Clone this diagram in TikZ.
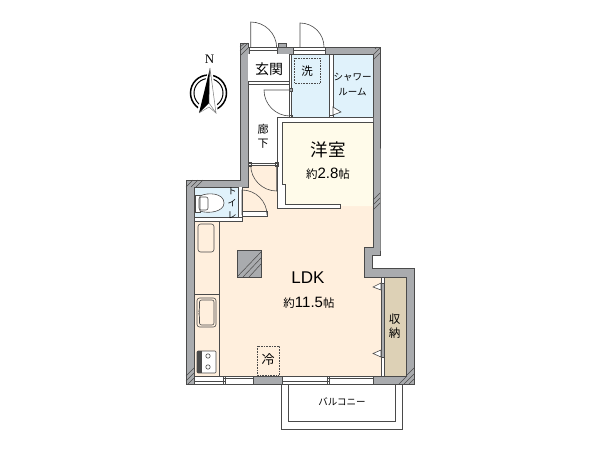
\documentclass[tikz,border=0pt]{standalone}
\usepackage{fontspec}
\setmainfont{Liberation Sans}
\newfontfamily\jp{Noto Sans CJK JP}
\newfontfamily\nserif{Liberation Serif}
\definecolor{wallc}{HTML}{A9ABAE}
\definecolor{linec}{HTML}{4A4A4A}
\definecolor{ldkc}{HTML}{FFEFDD}
\definecolor{bluec}{HTML}{E0F2FB}
\definecolor{creamc}{HTML}{FFFBEA}
\definecolor{closetc}{HTML}{DDD1B6}
\tikzset{
  wall/.style={fill=wallc,draw=linec,line width=.5pt},
  thin line/.style={draw=linec,line width=.6pt},
  swing/.style={draw=linec,line width=.6pt},
  strip/.style={fill=white,draw=linec,line width=.6pt},
  hatchl/.style={draw=linec,line width=.5pt},
  dots/.style={draw=linec,line width=.6pt,densely dotted},
  lab/.style={font=\jp,inner sep=0pt,text=black,align=center},
}
\newcommand{\fs}[1]{\fontsize{#1}{#1}\selectfont}
\begin{document}
\begin{tikzpicture}[x=1pt,y=-1pt]
\useasboundingbox (0,0) rectangle (600,450);
% floors
\fill[ldkc] (194,221) -- (242,221) -- (242,165) -- (277,165) -- (277,208) -- (340,208) -- (340,205) -- (373,205) -- (373,247) -- (364,247) -- (364,277) -- (384,277) -- (384,376) -- (194,376) -- cycle;
\fill[white] (248,54) rectangle (290,165);
\fill[creamc] (282,122) -- (373,122) -- (373,206) -- (340,206) -- (285,204) -- (285,184) -- (282,184) -- cycle;
\fill[bluec] (291,54) rectangle (373,117);
\fill[bluec] (194,187) rectangle (238,217);
\fill[closetc] (384,277) rectangle (406,376);
% outer wall
\fill[wall,even odd rule] (240,43) -- (248,43) -- (248,47) -- (380,47) -- (380,247) -- (380,255) -- (372,255) -- (372,268) -- (414,268) -- (414,384) -- (186,384) -- (186,180) -- (240,180) -- cycle
 (248,54) -- (373,54) -- (373,247) -- (364,247) -- (364,277) -- (406,277) -- (406,376) -- (194,376) -- (194,187) -- (248,187) -- cycle;
\fill[wall] (278,43) rectangle (286,47);
% top openings
\draw[strip] (249,47) rectangle (277,54);
\draw[thin line] (249,50.5) -- (277,50.5);
\draw[strip] (293,47) rectangle (325,54);
\draw[thin line] (293,50.5) -- (325,50.5);
% bottom windows
\draw[strip] (194,376) rectangle (253,384);
\draw[thin line] (194,381) -- (225,381) (223,378) -- (253,378);
\draw[thin line] (223,376) -- (223,384) (225,376) -- (225,384);
\draw[strip] (282,376) rectangle (373,384);
\draw[thin line] (282,381) -- (329,381) (327,378) -- (373,378);
\draw[thin line] (327,376) -- (327,384) (329,376) -- (329,384);
% top doors
\draw[swing] (250.7,47) -- (250.7,22) arc[start angle=-90,end angle=0,radius=26];
\draw[swing] (300,47) -- (300,23) arc[start angle=-90,end angle=0,radius=24];
% inner partitions
\draw[strip] (289,54) rectangle (291.5,117);
\fill[white] (248,54) rectangle (289,81);
\draw[thin line] (248,81) -- (289,81) (248,84) -- (289,84);
\draw[strip] (329,54) rectangle (333,117);
\draw[thin line,fill=wallc] (289,88) rectangle (292,91);
\draw[thin line] (289,115) rectangle (292,118) (329,115) rectangle (333,118);
% yoshitsu wall
\fill[white] (277.5,117) -- (373,117) -- (373,122) -- (282,122) -- (282,184) -- (285,184) -- (285,204) -- (340,204) -- (340,208.5) -- (277.5,208.5) -- cycle;
\draw[thin line] (277.5,117) -- (277.5,208.5) -- (340,208.5) -- (340,204) -- (285,204) -- (285,184) -- (282,184) -- (282,122) -- (373,122);
\draw[thin line] (277.5,117) -- (373,117);
% hall bottom threshold
\draw[thin line] (249,163) -- (277,163) (249,165) -- (277,165);
\draw[thin line] (248,162) rectangle (251,166) (275,162) rectangle (278,166);
% hall doors
\draw[swing] (290,90) -- (264,90) arc[start angle=180,end angle=90,radius=26];
\draw[swing] (276.7,165) -- (276.7,191) arc[start angle=90,end angle=180,radius=26];
% toilet
\draw[strip] (194,217) rectangle (242,221);
\fill[white] (238,187) rectangle (242,217);
\draw[thin line] (238,187) -- (238,217) (242,187) -- (242,217);
\draw[strip] (242,211) rectangle (267,216);
\draw[swing] (242,215) -- (242,190) arc[start angle=-90,end angle=0,radius=25];
\draw[fill=white,draw=linec,line width=.6pt] (195,195) rectangle (200,212);
\draw[fill=white,draw=linec,line width=.6pt] (200,196) .. controls (208,192) and (224,193) .. (224,203) .. controls (224,212) and (208,214) .. (200,211) -- cycle;
\draw[thin line,rounded corners=2pt] (199,197) rectangle (208,210);
% kitchen
\draw[thin line] (219,221) -- (219,376) (194,294) -- (219,294);
\draw[thin line,rounded corners=2.5pt] (198,224) rectangle (214,252);
\draw[thin line,rounded corners=2.5pt] (197,298) rectangle (216,327);
\draw[thin line,rounded corners=2pt] (199.5,300) -- (214,300) -- (214,325) -- (199.5,325) -- (199.5,315) -- (198.5,312.5) -- (199.5,310) -- cycle;
\draw[thin line,fill=white,rounded corners=1pt] (197,351) rectangle (216,373);
\fill[linec] (197,351) rectangle (202,373);
\draw[thin line] (208,356) circle[radius=2.2] (208,367) circle[radius=2.2];
% column
\draw[fill=wallc,draw=linec,line width=.7pt] (237,250) rectangle (261,277);
\begin{scope}
\clip (237,250) rectangle (261,277);
\draw[hatchl] (237,277) -- (261,252) (243,277) -- (261,258) (249,277) -- (261,264);
\end{scope}
% fridge and washer
\draw[dots] (257,346) rectangle (279,375);
\draw[dots] (294,58) rectangle (320,83);
% closet
\draw[thin line,fill=wallc] (381,277) rectangle (384,376);
\draw[strip] (381,277) rectangle (384,283);
\draw[strip] (381,357) rectangle (384,376);
\draw[thin line,fill=white] (381,283) -- (373,287) -- (381,290) -- cycle;
\draw[thin line,fill=white] (381,350) -- (373,353.5) -- (381,357) -- cycle;
\draw[thin line,fill=white] (333,107) -- (341,112) -- (333,115) -- cycle;
% balcony
\draw[thin line] (281,384) -- (281,429) -- (402,429) -- (402,384);
\draw[thin line] (288,384) -- (288,421) -- (395,421) -- (395,384);
% hatches
\draw[hatchl] (240,51) -- (248,43) (240,47) -- (245,43) (241,55) -- (248,48);
\draw[hatchl] (373,55) -- (380,48) (373,60) -- (380,53) (375,49) -- (377,47);
\draw[hatchl] (186,187) -- (193,180) (191,187) -- (198,180) (196,187) -- (203,180);
\draw[hatchl] (186,376) -- (194,368) (186,381) -- (194,373) (188,384) -- (194,378);
\draw[hatchl] (399,384) -- (407,376) (404,384) -- (414,374) (409,384) -- (414,379);
\draw[hatchl] (406,376) -- (414,368);
\draw[hatchl] (373,200) -- (380,193) (373,205) -- (380,198) (373,210) -- (380,203);
% north
\draw[black,line width=1.5pt] (208.5,93) circle[radius=18];
\draw[black,line width=1pt] (208.5,93) circle[radius=14.5];
\fill[white] (209,68) -- (212,68) -- (218,114) -- (196.5,114) -- cycle;
\fill[black] (210,68) -- (209,103) -- (199,113) -- cycle;
\draw[fill=white,draw=gray,line width=.5pt] (210,68) -- (216,113) -- (209,103) -- cycle;
\draw[gray,line width=.5pt] (199,113) -- (209,107) -- (216,113);
% texts
\node[lab] (genkan) at (269,69) {\fs{14}玄関};
\node[lab] (sen) at (307,71) {\fs{11.5}洗};
\node[lab] (shower) at (352.5,85) {\fs{9.5}シャワー\\[3pt]\fs{9.5}ルーム};
\node[lab] (rouka) at (263,136.5) {\fs{11}廊\\[2pt]\fs{11}下};
\node[lab] (toilet) at (232,203) {\fs{9}ト\\\fs{9}イ\\\fs{9}レ};
\node[lab] (yoshitsu) at (328,150) {\fs{17.5}洋室};
\node[lab,font=\rmfamily] (y2) at (328,174) {{\jp\fs{11.5}約}\fs{15}2.8{\jp\fs{11.5}帖}};
\node[lab,font=\rmfamily] (ldk) at (308,278) {\fs{17}LDK};
\node[lab,font=\rmfamily] (l2) at (309,302.5) {{\jp\fs{11.5}約}\fs{15}11.5{\jp\fs{11.5}帖}};
\node[lab] (shuno) at (394.5,326) {\fs{11.5}収\\[2pt]\fs{11.5}納};
\node[lab] (rei) at (268,360) {\fs{13}冷};
\node[lab] (bal) at (342,402) {\fs{9.5}バルコニー};
\node[lab,font=\nserif] (north) at (209.5,59) {\fs{13}N};
\end{tikzpicture}
\end{document}
